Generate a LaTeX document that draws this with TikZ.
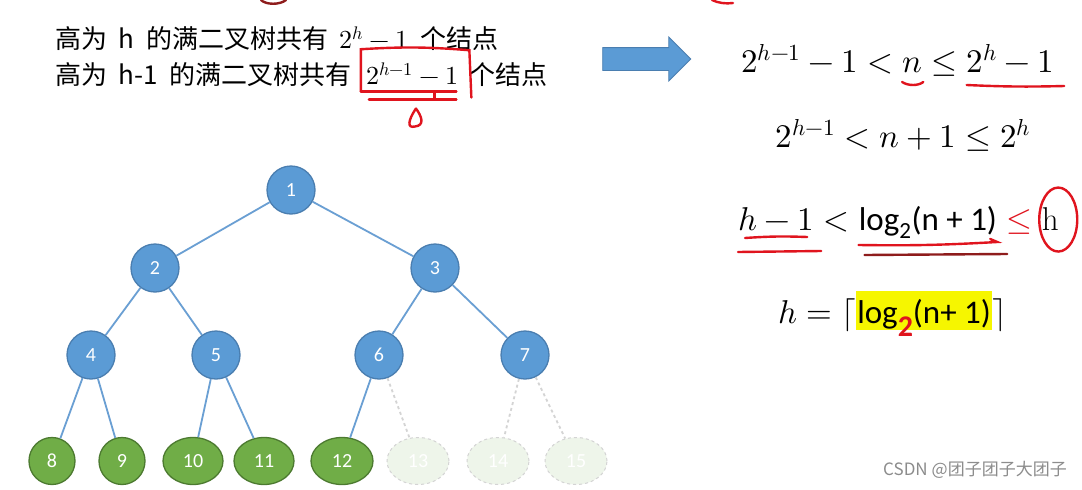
\documentclass[tikz,border=0pt]{standalone}
\usepackage{fontspec}
\usepackage{unicode-math}
\setmathfont{Latin Modern Math}
\newfontfamily\cjk[WordSpace=2]{Noto Sans CJK SC}
\newfontfamily\calibri{Carlito}
\usetikzlibrary{positioning,calc,shapes.geometric,shapes.arrows}
\definecolor{nodeblue}{HTML}{5B9BD5}
\definecolor{nodeedge}{HTML}{4A7EB0}
\definecolor{branchblue}{HTML}{6A9FD3}
\definecolor{leafgreen}{HTML}{70AD47}
\definecolor{leafedge}{HTML}{4C7A30}
\definecolor{ghostfill}{HTML}{EEF5EA}
\definecolor{ghostedge}{HTML}{D4D4D4}
\definecolor{inkred}{HTML}{E0141E}
\definecolor{inkdark}{HTML}{8E1C1C}
\definecolor{hilite}{HTML}{F6F600}
\definecolor{wmgray}{HTML}{8C8C8C}

\begin{document}
\begin{tikzpicture}[x=1pt, y=-1pt,
  inode/.style={ellipse, draw=nodeedge, fill=nodeblue, line width=1.3pt,
    minimum width=48pt, minimum height=48pt, text=white, font=\fontsize{20}{20}\calibri},
  leaf/.style={ellipse, draw=leafedge, fill=leafgreen, line width=1.3pt,
    minimum width=#1, minimum height=47pt, text=white, font=\fontsize{20}{20}\calibri},
  leaf/.default=60pt,
  ghost/.style={ellipse, draw=ghostedge, dashed, fill=ghostfill, line width=1pt,
    minimum width=62pt, minimum height=47pt, text=white, font=\fontsize{20}{20}\calibri},
  branch/.style={draw=branchblue, line width=1.8pt},
  ghostbranch/.style={draw=ghostedge, line width=1.8pt, dashed},
  txt/.style={font=\fontsize{26}{30}\cjk, inner sep=0pt},
  eq/.style={font=\fontsize{33}{36}\selectfont, inner sep=0pt},
  ink/.style={draw=inkred, line width=2.4pt, line cap=round}
]

  \fill[white] (0,0) rectangle (1082,490);
  \useasboundingbox (0,0) rectangle (1082,490);

  % Statement lines
  \node[txt, anchor=base west] (rowa) at (55,48.5) {高为 h 的满二叉树共有 $2^h-1$ 个结点};
  \node[txt, below=36pt of rowa.base west, anchor=base west] (rowb) {高为 h-1 的满二叉树共有};
  \node[txt, right=14pt of rowb.base east, anchor=base west] (rowbm) {$2^{h-1}-1$};
  \node[txt, right=11pt of rowbm.base east, anchor=base west] (rowbe) {个结点};

  % Block arrow
  \node[single arrow, draw=nodeedge, fill=nodeblue, line width=0.8pt, inner xsep=0pt, inner ysep=11pt,
    minimum height=88pt, single arrow head extend=10.5pt] (push) at (641,59) {};

  % Derivation
  \node[eq, anchor=base west] (fa) at (741,72) {$2^{h-1}-1<{}$};
  \node[eq, right=0pt of fa.base east, anchor=base west] (fb) {$n$};
  \node[eq, right=0pt of fb.base east, anchor=base west] (fc) {${}\le{}$};
  \node[eq, right=0pt of fc.base east, anchor=base west] (fd) {$2^h-1$};

  \node[eq, anchor=base] (fe) at (903,147) {$2^{h-1}<n+1\le 2^h$};

  \node[eq, anchor=base west] (ga) at (738,230) {$h-1$};
  \node[eq, right=0pt of ga.base east, anchor=base west] (gb) {${}<{}$};
  \node[eq, right=0pt of gb.base east, anchor=base west, font=\fontsize{33}{36}\calibri] (gc)
    {log\textsubscript{2}(n + 1)};
  \node[eq, right=0pt of gc.base east, anchor=base west, text=inkred] (gd) {${}\le{}$};
  \node[eq, right=0pt of gd.base east, anchor=base west, font=\fontsize{33}{36}\rmfamily] (ge) {h};

  \node[eq, anchor=base west] (ha) at (778,323) {$h=\lceil$};
  \node[eq, right=0pt of ha.base east, anchor=base west, fill=hilite, font=\fontsize{33}{36}\calibri,
    text height=32pt, text depth=7pt, inner xsep=1pt] (hb)
    {log\raisebox{-13pt}[0pt][0pt]{\color{inkred}\fontsize{30}{30}\bfseries 2}(n+ 1)};
  \node[eq, right=0pt of hb.base east, anchor=base west] (hc) {$\rceil$};

  % Tree
  \node[inode] (n1) at (291,190) {1};
  \node[inode] (n2) at (155,268) {2};
  \node[inode] (n3) at (435,268) {3};
  \node[inode] (n4) at (91,355) {4};
  \node[inode] (n5) at (216,355) {5};
  \node[inode] (n6) at (379,355) {6};
  \node[inode] (n7) at (525,355) {7};
  \node[leaf=46pt] (n8) at (52,461) {8};
  \node[leaf=46pt] (n9) at (122,461) {9};
  \node[leaf] (n10) at (193,461) {10};
  \node[leaf] (n11) at (264,461) {11};
  \node[leaf=62pt] (n12) at (342,461) {12};
  \node[ghost] (n13) at (418,461) {13};
  \node[ghost] (n14) at (498,461) {14};
  \node[ghost] (n15) at (576,461) {15};

  \foreach \p/\c in {1/2,1/3,2/4,2/5,3/6,3/7,4/8,4/9,5/10,5/11,6/12}
    \draw[branch] (n\p) -- (n\c);
  \foreach \p/\c in {6/13,7/14,7/15}
    \draw[ghostbranch] (n\p) -- (n\c);

  % Pen marks
  \draw[ink] ($(rowbm.base west)+(-5,7)$) -- ($(rowbm.north west)+(-5,-13)$)
    to[bend left=4] ($(rowbm.north east)+(11,-12)$) -- ($(rowbm.base east)+(13,13)$);
  \draw[ink] ($(rowbm.base west)+(-5,7)$) -- ($(rowbm.base east)+(-2,7)$);
  \draw[ink] ($(rowbm.base west)+(3,15)$) -- ($(rowbm.base east)+(-2,15)$);
  \draw[ink] ($(rowbm.base east)+(-24,7)$) -- ++(0,8);
  \draw[ink] ($(rowbm.base west)+(50,24)$) .. controls +(-8,12) and +(-8,2) ..
    ($(rowbm.base west)+(49,42)$) .. controls +(10,-1) and +(6,8) .. ($(rowbm.base west)+(50,24)$);
  \draw[ink, draw=inkdark] (261,0) .. controls (266,5) and (280,5) .. (286,0);
  \draw[ink] (712,0) .. controls (718,3) and (726,4) .. (733,3);

  \draw[ink] ($(fb.base west)+(0,10)$) .. controls +(6,4) and +(-5,4) .. ($(fb.base east)+(1,10)$);
  \draw[ink] ($(fd.base west)+(0,13)$) to[bend right=2] ($(fd.base east)+(10,14)$);

  \draw[ink] ($(ga.base west)+(7,8)$) to[bend left=3] ($(ga.base east)+(-7,7)$);
  \draw[ink] ($(ga.base west)+(0,22)$) -- ($(ga.base east)+(7,21)$);
  \draw[ink] ($(gc.base west)+(0,15)$) to[bend right=2] ($(gc.base east)+(0,12)$) -- ++(-7,-3);
  \draw[ink, draw=inkdark] ($(gc.base west)+(6,25)$) -- ($(gc.base east)+(10,24)$);
  \draw[ink] ($(ge.center)+(8,1)$) ellipse [x radius=19pt, y radius=32pt];

  % Watermark
  \node[font=\fontsize{17}{17}\cjk, text=wmgray, anchor=east, inner sep=0pt] (wm) at (1067,470)
    {CSDN\hspace{4pt}@团子团子大团子};

\end{tikzpicture}
\end{document}
